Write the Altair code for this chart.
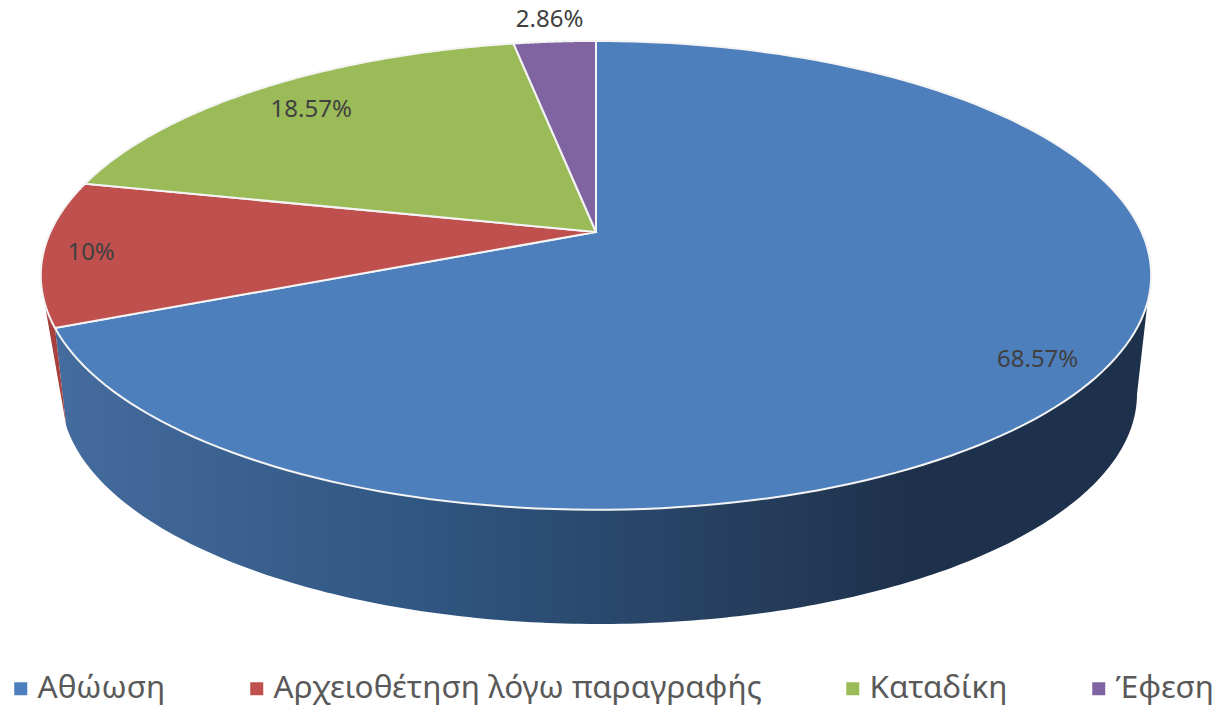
import math
import altair as alt
import pandas as pd

categories = ["Αθώωση", "Αρχειοθέτηση λόγω παραγραφής", "Καταδίκη", "Έφεση"]
values = [68.57, 10, 18.57, 2.86]
labels = ["68.57%", "10%", "18.57%", "2.86%"]
colors = ["#4d7fbc", "#bf504d", "#9bbb59", "#8064a2"]
label_radius = [0.89, 0.915, 0.84, 1.15]
label_turn = [1.0, 0.0, 0.0, 0.0]

# perspective disc geometry
CX, CY, A, B, K = 596, 232, 545.6, 226.4, 0.185
LCX, LCY, LA, LB = 599, 394, 538, 230


def top(theta, r=1.0):
    s, c = r * math.sin(theta), r * math.cos(theta)
    w = 1 + K * c
    return CX + A * s / w, CY - B * c / w


def low(phi):
    return LCX + LA * math.sin(phi), LCY - LB * math.cos(phi)


def span(a, b, n):
    return [a + (b - a) * i / n for i in range(n + 1)]


total = sum(values)
edges = [0.0]
for v in values:
    edges.append(edges[-1] + v / total * 2 * math.pi)

rows = []
for j, cat in enumerate(categories):
    pts = [(CX, CY)] + [top(t) for t in span(edges[j], edges[j + 1], 160)]
    for i, (x, y) in enumerate(pts):
        rows.append({"cat": cat, "i": i, "x": x, "y": y})
slices = pd.DataFrame(rows)

rim_right = math.radians(107)
rim_left = math.radians(253)
low_end = math.radians(262)

blue_pts = [top(t) for t in span(rim_right, edges[1], 200)] + \
    [low(p) for p in span(low_end, math.radians(90), 200)]
red_pts = [top(t) for t in span(edges[1], rim_left, 30)] + [low(low_end)]
side_blue = pd.DataFrame([{"i": i, "x": x, "y": y} for i, (x, y) in enumerate(blue_pts)])
side_red = pd.DataFrame([{"i": i, "x": x, "y": y} for i, (x, y) in enumerate(red_pts)])

label_rows = []
for j, lab in enumerate(labels):
    mid = (edges[j] + edges[j + 1]) / 2 + math.radians(label_turn[j])
    x, y = top(mid, label_radius[j])
    label_rows.append({"label": lab, "x": x, "y": y})
label_df = pd.DataFrame(label_rows)

X = alt.X("x:Q", axis=None, scale=alt.Scale(domain=[8, 1215], nice=False, zero=False))
Y = alt.Y("y:Q", axis=None, scale=alt.Scale(domain=[698, 8], nice=False, zero=False))
O = alt.Order("i:Q")

gradient = alt.Gradient(
    gradient="linear", x1=0, x2=1, y1=0, y2=0,
    stops=[
        alt.GradientStop(offset=0, color="#456c9e"),
        alt.GradientStop(offset=0.35, color="#2f5580"),
        alt.GradientStop(offset=0.63, color="#263e5d"),
        alt.GradientStop(offset=0.78, color="#1e314c"),
        alt.GradientStop(offset=1, color="#1e314c"),
    ],
)

blue_side = alt.Chart(side_blue).mark_line(
    interpolate="linear-closed", fill=gradient, strokeWidth=0
).encode(x=X, y=Y, order=O)
red_side = alt.Chart(side_red).mark_line(
    interpolate="linear-closed", fill="#a8403e", strokeWidth=0
).encode(x=X, y=Y, order=O)

tops = alt.Chart(slices).mark_line(
    interpolate="linear-closed", stroke="#f4f4f4", strokeWidth=2
).encode(
    x=X, y=Y, order=O,
    fill=alt.Fill(
        "cat:N",
        scale=alt.Scale(domain=categories, range=colors),
        sort=categories,
        legend=alt.Legend(
            title=None, orient="none", legendX=-3, legendY=665, direction="horizontal",
            columns=4, gridAlign="none", columnPadding=75,
            symbolType="square", symbolSize=169, symbolStrokeWidth=0, symbolOpacity=1,
            labelFont="Noto Sans", labelFontSize=31.5, labelColor="#595959",
            labelOffset=1, labelLimit=700, symbolOffset=0,
        ),
    ),
)

texts = alt.Chart(label_df).mark_text(
    font="Noto Sans", fontSize=24, color="#404040", dy=2
).encode(x=X, y=Y, text="label:N")

chart = alt.layer(blue_side, red_side, tops, texts).properties(
    width=1207, height=690,
    padding={"left": 0, "top": 0, "right": 0, "bottom": 8},
    autosize=alt.AutoSizeParams(type="none"),
).configure_view(stroke=None)

chart.save("out.html", embed_options={"renderer": "svg", "actions": False})
